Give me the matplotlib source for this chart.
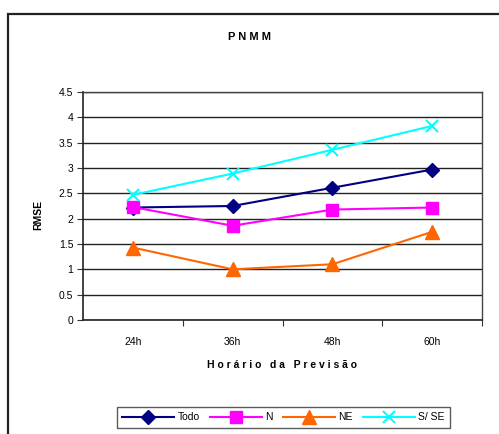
import matplotlib
matplotlib.use("Agg")
import matplotlib.pyplot as plt
from matplotlib.patches import Rectangle

plt.rcParams['font.family'] = ['Liberation Sans', 'DejaVu Sans']

categories = ["24h", "36h", "48h", "60h"]
todo = [2.22, 2.25, 2.61, 2.97]
n_vals = [2.23, 1.86, 2.18, 2.22]
ne_vals = [1.43, 1.00, 1.10, 1.74]
sse_vals = [2.47, 2.89, 3.36, 3.83]
series_names = ["Todo", "N", "NE", "S/ SE"]

W, H = 499, 434
fig = plt.figure(figsize=(W/100, H/100), dpi=100)

# outer border
fig.patches.append(Rectangle((8/W, -0.2), 1.2, 1.2 - 14/H, transform=fig.transFigure,
                             fill=False, edgecolor='#222222', linewidth=1.6, zorder=0))

ax = fig.add_axes([83/W, 1 - 320/H, (482-83)/W, (320-92)/H])
x = list(range(len(categories)))

ax.plot(x, todo, color='#000080', marker='D', markersize=7.5, linewidth=1.5, label=series_names[0], zorder=3)
ax.plot(x, n_vals, color='#FF00FF', marker='s', markersize=9, linewidth=1.5, label=series_names[1], zorder=3)
ax.plot(x, ne_vals, color='#FF6600', marker='^', markersize=9.5, linewidth=1.5, label=series_names[2], zorder=3)
ax.plot(x, sse_vals, color='#00FFFF', marker='x', markersize=9, markeredgewidth=1.5, linewidth=1.5, label=series_names[3], zorder=3)

ax.set_xlim(-0.5, 3.5)
ax.set_ylim(0, 4.5)
yt = [i*0.5 for i in range(10)]
ax.set_yticks(yt)
ax.set_yticklabels([("%g" % v) for v in yt], fontsize=7.5)
ax.set_xticks(x)
ax.set_xticklabels(categories, fontsize=7.5)
ax.set_xticks([0.5, 1.5, 2.5, 3.5], minor=True)
ax.tick_params(axis='x', which='major', length=0, pad=12)
ax.tick_params(axis='x', which='minor', length=4, width=0.8, color='#333333')
ax.tick_params(axis='y', length=4, width=0.8, color='#333333', pad=3)
ax.yaxis.grid(True, color='#222222', linewidth=1.0)
ax.set_axisbelow(True)
for s in ['top', 'right']:
    ax.spines[s].set_color('#444444')
    ax.spines[s].set_linewidth(1.0)
for s in ['left', 'bottom']:
    ax.spines[s].set_color('#222222')
    ax.spines[s].set_linewidth(1.2)

fig.text(250/W, 1 - 37/H, "P N M M", ha='center', va='center', fontsize=8, fontweight='bold')
fig.text(282/W, 1 - 365/H, "H o r á r i o   d a   P r e v i s ã o", ha='center', va='center',
         fontsize=7.5, fontweight='bold')
fig.text(38/W, 1 - 215/H, "RMSE", ha='center', va='center', rotation=90, fontsize=7.5, fontweight='bold')

leg = fig.legend(loc='center', bbox_to_anchor=(283.5/W, 1 - 417.5/H), ncol=4, fontsize=7.5,
                 frameon=True, fancybox=False, edgecolor='#333333', handlelength=5,
                 columnspacing=1.0, handletextpad=0.3, borderpad=0.5)
leg.get_frame().set_linewidth(1.0)

fig.savefig("out.png", dpi=100)
